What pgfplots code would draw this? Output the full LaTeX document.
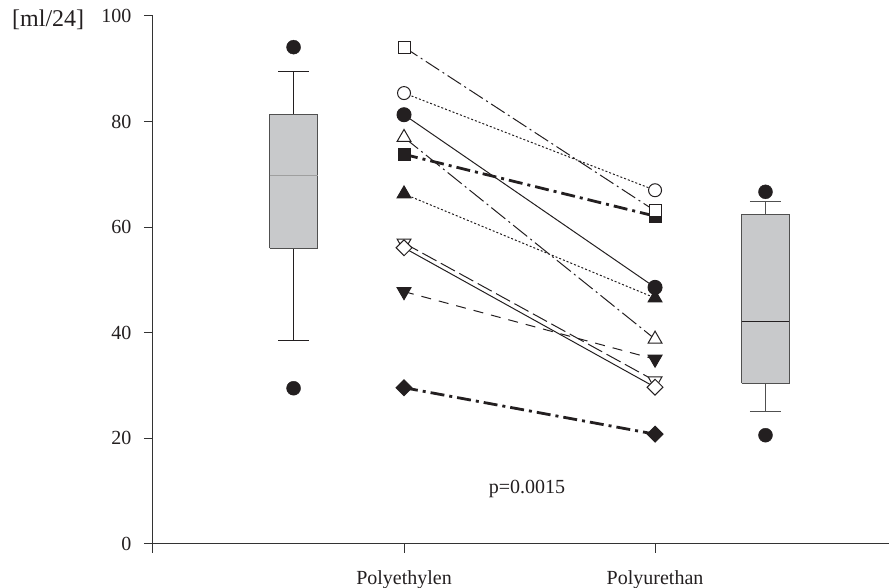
\documentclass[border=0pt]{standalone}
\usepackage{pgfplots}
\pgfplotsset{compat=1.18}
\usepackage{fontspec}
\setmainfont{Liberation Serif}
\definecolor{mk}{HTML}{231F20}
\definecolor{boxfill}{HTML}{C8C9CB}
\definecolor{boxedge}{HTML}{505050}
\definecolor{axcol}{HTML}{333333}
\begin{document}
\begin{tikzpicture}
\begin{axis}[
  scale only axis,
  width=736pt, height=528pt,
  xmin=0, xmax=2.932, ymin=0, ymax=100,
  axis lines*=left,
  axis line style={axcol, line width=1pt},
  tick style={axcol, line width=1pt},
  tick align=outside,
  major tick length=9pt,
  xtick={0,1,2}, xticklabels={,Polyethylen,Polyurethan},
  ytick={0,20,40,60,80,100},
  /pgf/number format/assume math mode=true,
  ticklabel style={font=\fontsize{20}{24}\selectfont, text=mk},
  xticklabel style={yshift=-14pt},
  yticklabel style={xshift=-9pt},
  clip=false,
]
% left box plot (whiskers, box, median)
\addplot[mk, line width=1pt] coordinates {(0.56,81.25) (0.56,89.5)};
\addplot[mk, line width=1pt] coordinates {(0.498,89.5) (0.622,89.5)};
\addplot[mk, line width=1pt] coordinates {(0.56,56.0) (0.56,38.6)};
\addplot[mk, line width=1pt] coordinates {(0.498,38.6) (0.622,38.6)};
\addplot[fill=boxfill, draw=boxedge, line width=1pt]
  coordinates {(0.4645,56.0) (0.6555,56.0) (0.6555,81.25) (0.4645,81.25) (0.4645,56.0)};
\addplot[gray!75, line width=1pt] coordinates {(0.4645,69.8) (0.6555,69.8)};
% right box plot
\addplot[boxedge, line width=1pt] coordinates {(2.44,62.4) (2.44,64.8)};
\addplot[boxedge, line width=1pt] coordinates {(2.378,64.8) (2.502,64.8)};
\addplot[boxedge, line width=1pt] coordinates {(2.44,30.4) (2.44,25.1)};
\addplot[boxedge, line width=1pt] coordinates {(2.378,25.1) (2.502,25.1)};
\addplot[fill=boxfill, draw=boxedge, line width=1pt]
  coordinates {(2.3445,30.4) (2.5355,30.4) (2.5355,62.4) (2.3445,62.4) (2.3445,30.4)};
\addplot[mk, line width=1pt] coordinates {(2.3445,42.1) (2.5355,42.1)};
% outliers
\addplot[only marks, mark=*, mark size=7pt, mark options={fill=mk, draw=mk}]
  coordinates {(0.56,94.1) (0.56,29.5) (2.44,66.7) (2.44,20.6)};
% paired lines
% filled square, thick dash-dot
\addplot[mk, line width=2.8pt, dash pattern=on 14pt off 5pt on 3pt off 5pt,
  mark=square*, mark size=6pt, mark options={solid, fill=mk, draw=mk, line width=1pt}]
  coordinates {(1,73.8) (2,62.1)};
% open square, thin dash-dot
\addplot[mk, line width=1pt, dash pattern=on 16pt off 4pt on 2pt off 4pt,
  mark=square*, mark size=6pt, mark options={solid, fill=white, draw=mk, line width=1pt}]
  coordinates {(1,94.1) (2,63.1)};
% open circle, dotted
\addplot[mk, line width=1pt, dash pattern=on 2pt off 2pt,
  mark=*, mark size=6.5pt, mark options={solid, fill=white, draw=mk, line width=1pt}]
  coordinates {(1,85.4) (2,67.0)};
% filled triangle, dotted
\addplot[mk, line width=1pt, dash pattern=on 2pt off 2pt,
  mark=triangle*, mark size=8pt, mark options={solid, fill=mk, draw=mk, line width=1pt}]
  coordinates {(1,66.3) (2,46.6)};
% filled circle, solid
\addplot[mk, line width=1pt,
  mark=*, mark size=7pt, mark options={solid, fill=mk, draw=mk}]
  coordinates {(1,81.3) (2,48.6)};
% open triangle, dash-dot
\addplot[mk, line width=1pt, dash pattern=on 18pt off 4pt on 2pt off 4pt,
  mark=triangle*, mark size=8pt, mark options={solid, fill=white, draw=mk, line width=1pt}]
  coordinates {(1,77.0) (2,38.8)};
% filled down triangle, dashed
\addplot[mk, line width=1pt, dash pattern=on 10pt off 8pt,
  mark=triangle*, mark size=8pt, mark options={solid, rotate=180, fill=mk, draw=mk, line width=1pt}]
  coordinates {(1,47.8) (2,35.0)};
% open down triangle, long dashed
\addplot[mk, line width=1pt, dash pattern=on 16pt off 5pt,
  mark=triangle*, mark size=8pt, mark options={solid, rotate=180, fill=white, draw=mk, line width=1pt}]
  coordinates {(1,57.0) (2,30.9)};
% open diamond, solid
\addplot[mk, line width=1pt,
  mark=square*, mark size=5.6pt, mark options={solid, rotate=45, fill=white, draw=mk, line width=1pt}]
  coordinates {(1,56.1) (2,29.7)};
% filled diamond, thick dash-dot
\addplot[mk, line width=2.8pt, dash pattern=on 14pt off 5pt on 3pt off 5pt,
  mark=square*, mark size=5.6pt, mark options={solid, rotate=45, fill=mk, draw=mk, line width=1pt}]
  coordinates {(1,29.6) (2,20.8)};
\node[font=\fontsize{20}{24}\selectfont, text=mk] at (axis cs:1.49,10.4) {p=0.0015};
\end{axis}
\node[anchor=west, font=\fontsize{24}{28}\selectfont, text=mk, inner sep=0pt] at (-141pt,524pt) {[ml/24]};
\pgfresetboundingbox
\path[use as bounding box] (-153pt,-44pt) rectangle (738pt,544pt);
\end{tikzpicture}
\end{document}
